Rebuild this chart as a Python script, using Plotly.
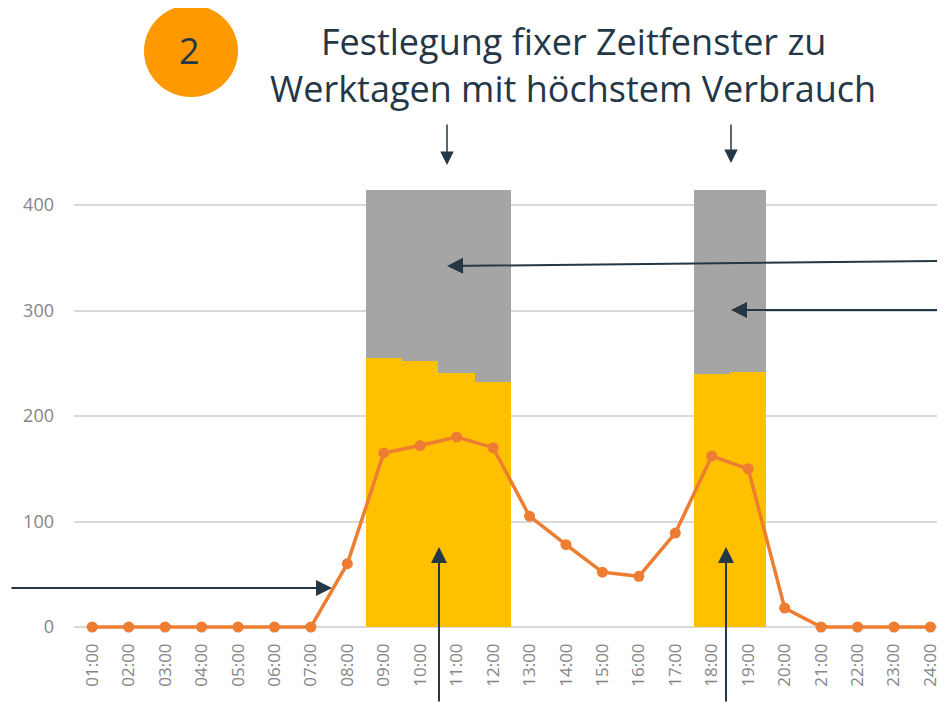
import plotly.graph_objects as go

hours = ["01:00","02:00","03:00","04:00","05:00","06:00","07:00","08:00","09:00","10:00","11:00","12:00",
         "13:00","14:00","15:00","16:00","17:00","18:00","19:00","20:00","21:00","22:00","23:00","24:00"]
verbrauch = [0,0,0,0,0,0,0,60,165,172,180,170,105,78,52,48,89,162,150,18,0,0,0,0]
fenster_gelb = [None,None,None,None,None,None,None,None,255,252,241,232,None,None,None,None,None,240,242,None,None,None,None,None]
fenster_grau = [None,None,None,None,None,None,None,None,159,162,173,182,None,None,None,None,None,174,172,None,None,None,None,None]
y_ticks = [0,100,200,300,400]

OFF = 8  # default page body margin
W, H = 945 - OFF, 703 - OFF
L, R, T, B = 66, 0, 176, 71
PW, PH = W - L - R, H - T - B

def px(x, y):
    """window pixel -> paper coordinates"""
    x -= OFF
    y -= OFF
    return (x - L) / PW, (H - B - y) / PH

NAVY = "#243746"

fig = go.Figure()
fig.add_trace(go.Bar(x=hours, y=fenster_gelb, marker=dict(color="#FFC000", line=dict(width=0)), showlegend=False))
fig.add_trace(go.Bar(x=hours, y=fenster_grau, marker=dict(color="#A5A5A5", line=dict(width=0)), showlegend=False))
fig.add_trace(go.Scatter(x=hours, y=verbrauch, mode="lines+markers",
                         line=dict(color="#ED7D31", width=3.5),
                         marker=dict(color="#ED7D31", size=11),
                         cliponaxis=False, showlegend=False))

fig.update_layout(
    width=W, height=H, margin=dict(l=L, r=R, t=T, b=B),
    barmode="stack", bargap=0,
    plot_bgcolor="white", paper_bgcolor="white",
    font=dict(family="Open Sans", color="#7f7f7f"),
    xaxis=dict(type="category", range=[-0.5, 23.4], tickangle=-90, showgrid=False,
               showline=False, ticks="", ticklabelstandoff=7,
               tickfont=dict(family="Open Sans", size=17, color="#858585")),
    yaxis=dict(range=[-4.74, 419.9], tickvals=y_ticks, showgrid=True, gridcolor="#D9D9D9",
               gridwidth=1.5, zeroline=False, showline=False, ticks="",
               ticklabelstandoff=19, tickfont=dict(family="Open Sans", size=18, color="#858585")),
)

# orange circle with number
cx0, cy0 = px(144, 5)
cx1, cy1 = px(238, 97)
fig.add_shape(type="circle", xref="paper", yref="paper", x0=cx0, y0=cy1, x1=cx1, y1=cy0,
              fillcolor="#FF9900", line=dict(width=0))
nx, ny = px(189, 50)
fig.add_annotation(xref="paper", yref="paper", x=nx, y=ny, xanchor="center", yanchor="middle",
                   text="2", showarrow=False,
                   font=dict(family="Open Sans", size=36, color=NAVY))

for line, yc in [("Festlegung fixer Zeitfenster zu", 42), ("Werktagen mit höchstem Verbrauch", 88)]:
    tx, ty = px(573, yc)
    fig.add_annotation(xref="paper", yref="paper", x=tx, y=ty, xanchor="center", yanchor="middle",
                       text=line, showarrow=False,
                       font=dict(family="Open Sans", size=36, color=NAVY))

arrows = [
    ((447, 165), (447, 123), 1.5, 1.8),
    ((731, 163), (731, 123), 1.5, 1.8),
    ((447, 266), (945, 261), 2, 1.6),
    ((731, 310), (945, 310), 2, 1.6),
    ((439, 547), (439, 703), 2, 1.6),
    ((726, 547), (726, 703), 2, 1.6),
    ((332, 588), (10, 588), 2, 1.6),
]
for (hx, hy), (tx_, ty_), w, s in arrows:
    ax_, ay_ = px(hx, hy)
    fig.add_annotation(xref="paper", yref="paper", x=ax_, y=ay_, text="",
                       showarrow=True, arrowhead=2, arrowsize=s,
                       arrowwidth=w, arrowcolor=NAVY,
                       ax=tx_ - hx, ay=ty_ - hy, standoff=0, startstandoff=0)

fig.write_html("out.html")
